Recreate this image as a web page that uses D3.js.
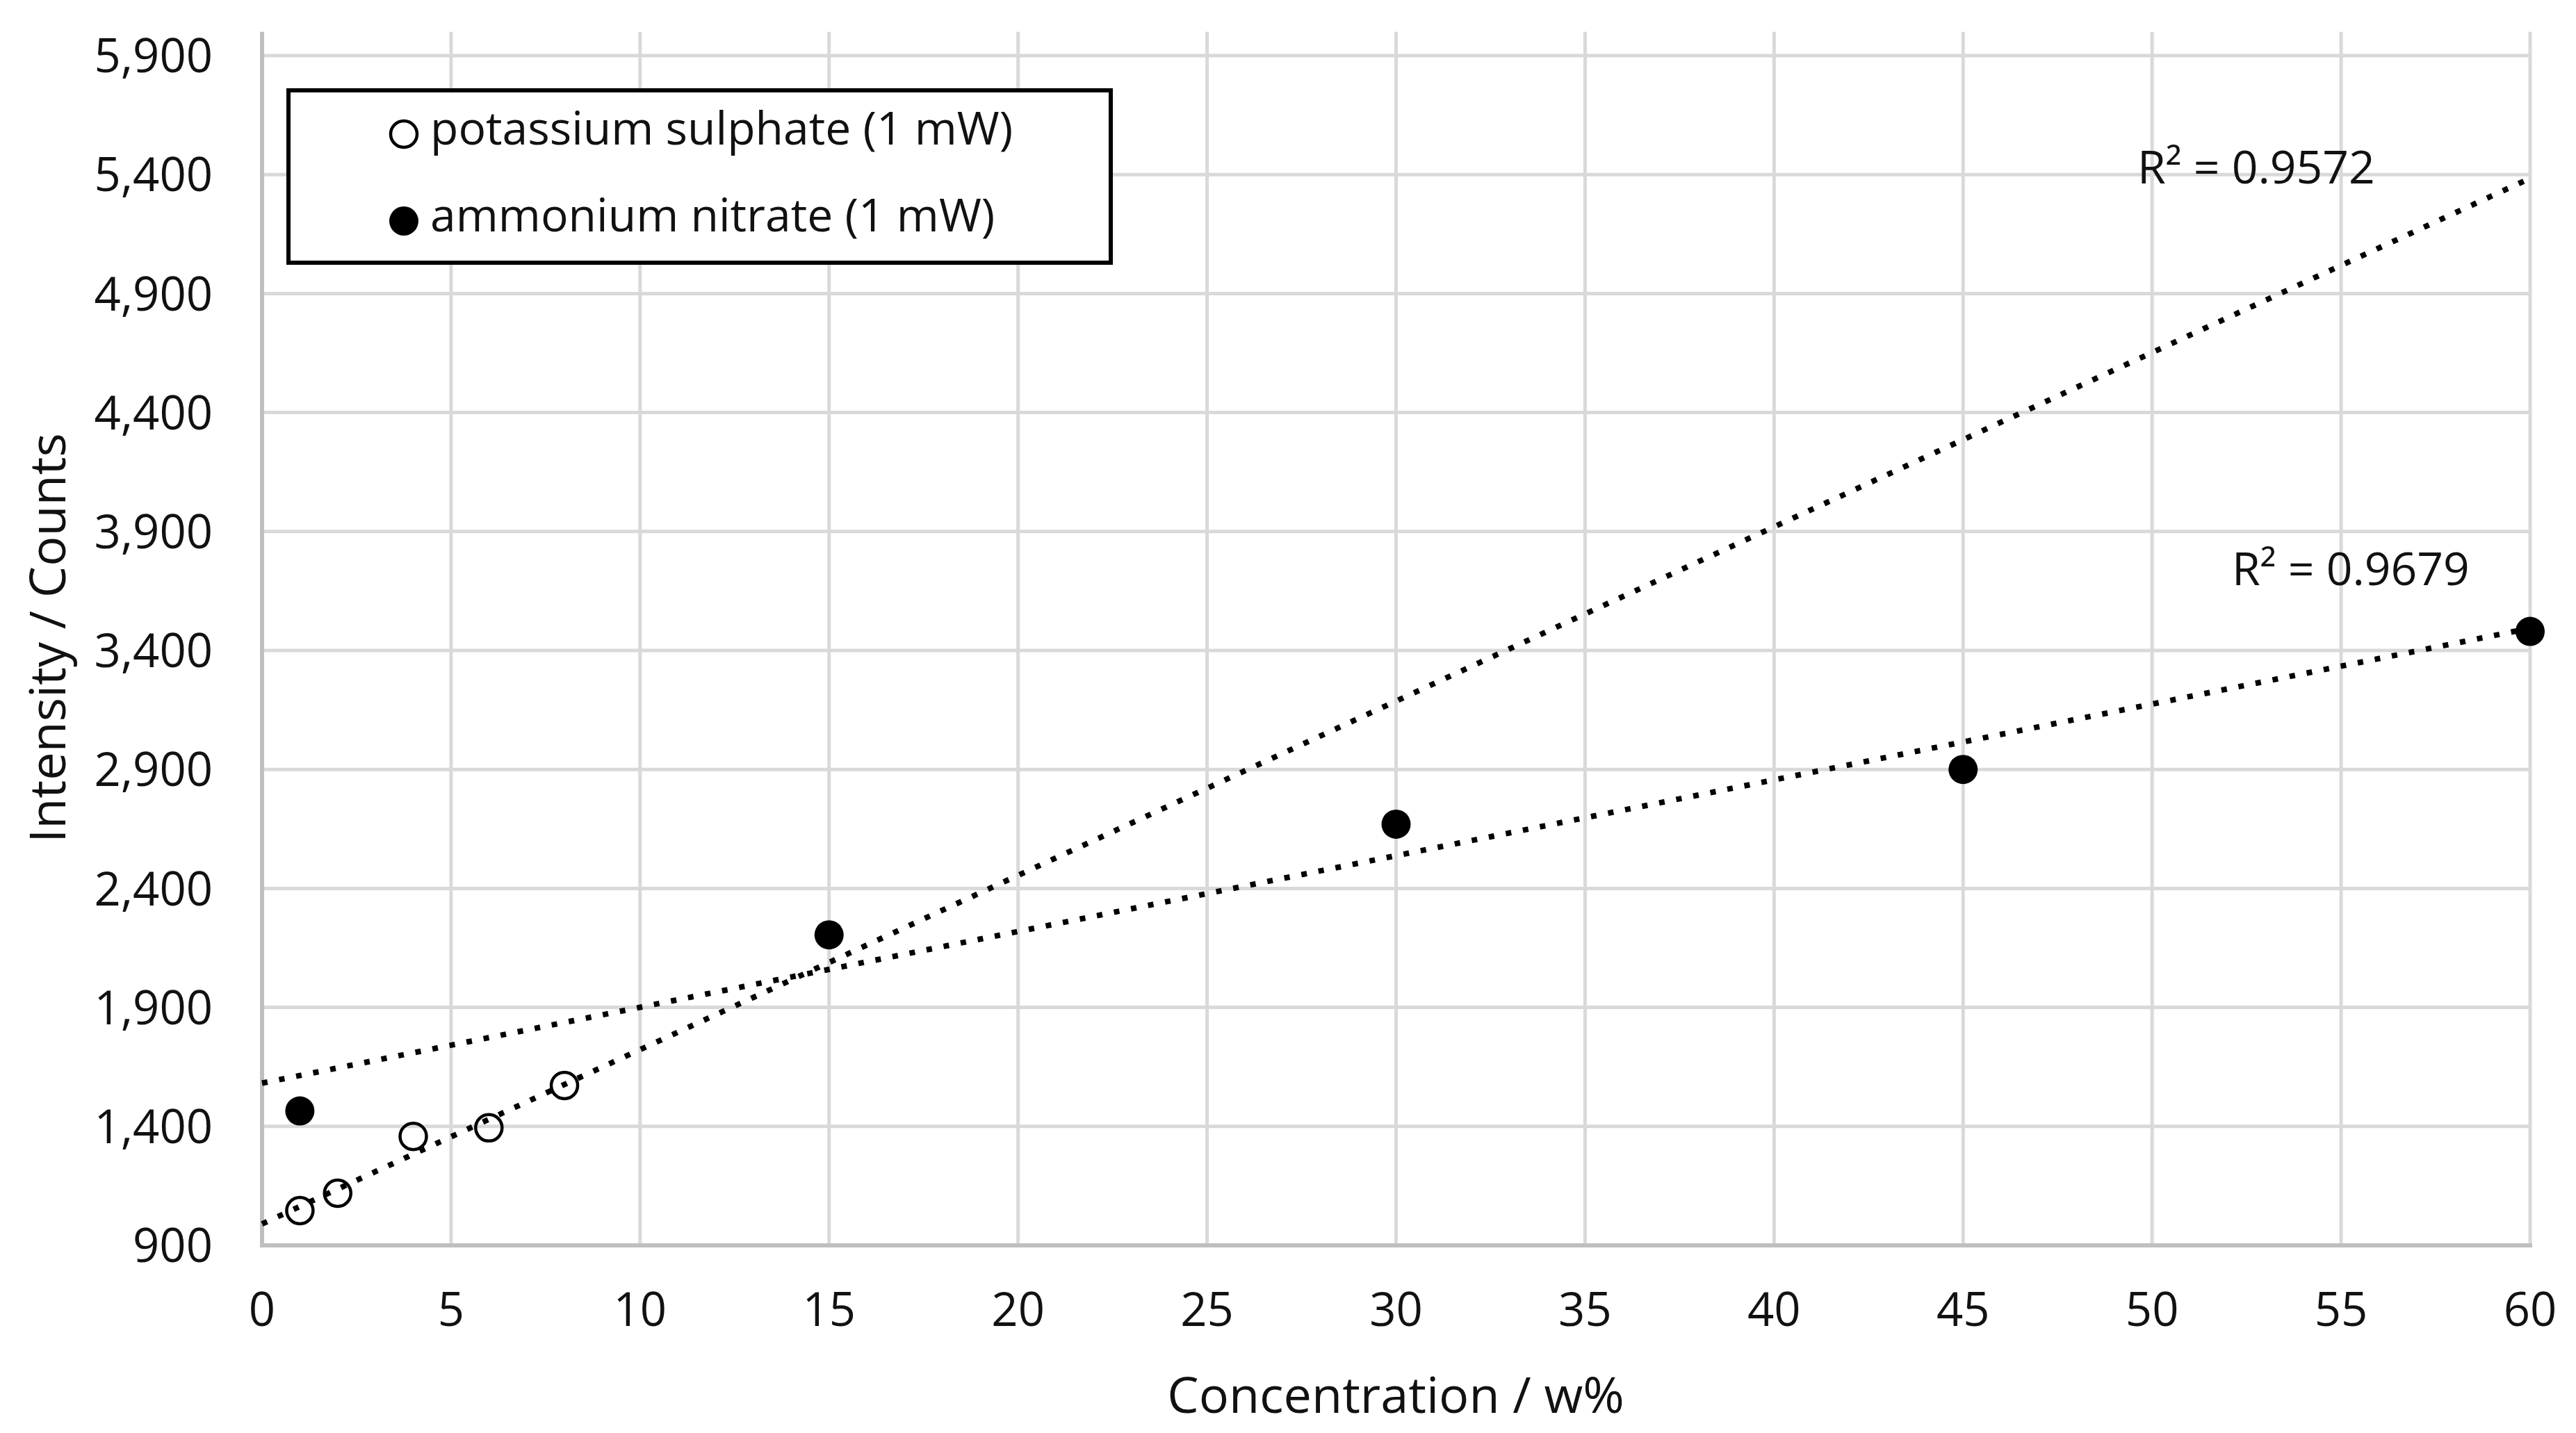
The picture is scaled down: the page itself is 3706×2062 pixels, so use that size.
<!DOCTYPE html>
<html>
<head>
<meta charset="utf-8">
<script src="https://cdn.jsdelivr.net/npm/d3@7"></script>
<style>
    body { margin: 0; background: #fff; }
</style>
</head>
<body>
<div id="viz"></div>
<script>
// data
const sulphateConc = [1, 2, 4, 6, 8]
const sulphateCounts = [1046, 1119, 1358, 1394, 1572]
const nitrateConc = [1, 15, 30, 45, 60]
const nitrateCounts = [1465, 2205, 2670, 2900, 3480]
const xTicks = [0, 5, 10, 15, 20, 25, 30, 35, 40, 45, 50, 55, 60]
const yTicks = [900, 1400, 1900, 2400, 2900, 3400, 3900, 4400, 4900, 5400, 5900]
const seriesNames = ["potassium sulphate (1 mW)", "ammonium nitrate (1 mW)"]
const r2Labels = ["R² = 0.9572", "R² = 0.9679"]

document.addEventListener("DOMContentLoaded", () => {

    const width = 3706
    const height = 2062
    const font = "'Open Sans', 'Noto Sans', sans-serif"

    const svg = d3.select("#viz").append("svg")
        .attr("width", width)
        .attr("height", height)
        .style("display", "block")

    // scales
    const x = d3.scaleLinear().domain([0, 60]).range([377, 3640])
    const y = d3.scaleLinear().domain([900, 5900]).range([1792, 80])
    const yTop = y(6000)

    // grid
    svg.append("g").selectAll("line.h")
        .data(yTicks.slice(1))
        .join("line")
        .attr("x1", x(0)).attr("x2", x(60))
        .attr("y1", d => y(d)).attr("y2", d => y(d))
        .attr("stroke", "#d9d9d9").attr("stroke-width", 5)

    svg.append("g").selectAll("line.v")
        .data(xTicks.slice(1))
        .join("line")
        .attr("x1", d => x(d)).attr("x2", d => x(d))
        .attr("y1", yTop).attr("y2", y(900))
        .attr("stroke", "#d9d9d9").attr("stroke-width", 5)

    // axis lines
    svg.append("line")
        .attr("x1", x(0)).attr("x2", x(0))
        .attr("y1", yTop).attr("y2", y(900) + 3)
        .attr("stroke", "#bfbfbf").attr("stroke-width", 6)
    svg.append("line")
        .attr("x1", x(0) - 3).attr("x2", x(60) + 3)
        .attr("y1", y(900)).attr("y2", y(900))
        .attr("stroke", "#bfbfbf").attr("stroke-width", 6)

    // tick labels
    const fmt = d3.format(",")
    svg.append("g").selectAll("text")
        .data(yTicks)
        .join("text")
        .attr("x", 306)
        .attr("y", d => y(d))
        .attr("dy", "0.36em")
        .attr("text-anchor", "end")
        .attr("font-family", font).attr("font-size", 67).attr("fill", "#111")
        .text(d => fmt(d))

    svg.append("g").selectAll("text")
        .data(xTicks)
        .join("text")
        .attr("x", d => x(d))
        .attr("y", 1908)
        .attr("text-anchor", "middle")
        .attr("font-family", font).attr("font-size", 67).attr("fill", "#111")
        .text(d => d)

    // axis titles
    svg.append("text")
        .attr("x", 2008).attr("y", 2033)
        .attr("text-anchor", "middle")
        .attr("font-family", font).attr("font-size", 72).attr("fill", "#111")
        .text("Concentration / w%")

    svg.append("text")
        .attr("transform", "translate(94,918) rotate(-90)")
        .attr("text-anchor", "middle")
        .attr("font-family", font).attr("font-size", 72).attr("fill", "#111")
        .text("Intensity / Counts")

    // least squares trendlines (as the spreadsheet draws them)
    function fit(xs, ys) {
        const mx = d3.mean(xs), my = d3.mean(ys)
        const sxy = d3.sum(xs, (v, i) => (v - mx) * (ys[i] - my))
        const sxx = d3.sum(xs, v => (v - mx) * (v - mx))
        const b = sxy / sxx
        return [b, my - b * mx]
    }

    const fits = [fit(sulphateConc, sulphateCounts), fit(nitrateConc, nitrateCounts)]
    const line = d3.line().x(d => x(d[0])).y(d => y(d[1]))

    fits.forEach(([b, a]) => {
        svg.append("path")
            .attr("d", line([[0, a], [60, a + b * 60]]))
            .attr("fill", "none")
            .attr("stroke", "#000")
            .attr("stroke-width", 8)
            .attr("stroke-dasharray", "8,17")
    })

    // markers
    svg.append("g").selectAll("circle")
        .data(sulphateConc)
        .join("circle")
        .attr("cx", d => x(d))
        .attr("cy", (d, i) => y(sulphateCounts[i]))
        .attr("r", 19)
        .attr("fill", "none")
        .attr("stroke", "#000")
        .attr("stroke-width", 4.5)

    svg.append("g").selectAll("circle")
        .data(nitrateConc)
        .join("circle")
        .attr("cx", d => x(d))
        .attr("cy", (d, i) => y(nitrateCounts[i]))
        .attr("r", 21)
        .attr("fill", "#000")

    // R² labels
    svg.append("text")
        .attr("x", 3075).attr("y", 264)
        .attr("font-family", font).attr("font-size", 66).attr("fill", "#111")
        .text(r2Labels[0])
    svg.append("text")
        .attr("x", 3211).attr("y", 842)
        .attr("font-family", font).attr("font-size", 66).attr("fill", "#111")
        .text(r2Labels[1])

    // legend
    const legend = svg.append("g")
    legend.append("rect")
        .attr("x", 415).attr("y", 130)
        .attr("width", 1183).attr("height", 248)
        .attr("fill", "#fff")
        .attr("stroke", "#000").attr("stroke-width", 6)

    legend.append("circle")
        .attr("cx", 581).attr("cy", 193).attr("r", 19)
        .attr("fill", "#fff").attr("stroke", "#000").attr("stroke-width", 4.5)
    legend.append("circle")
        .attr("cx", 581).attr("cy", 318).attr("r", 21)
        .attr("fill", "#000")

    legend.selectAll("text")
        .data(seriesNames)
        .join("text")
        .attr("x", 619)
        .attr("y", (d, i) => 208 + i * 125)
        .attr("font-family", font).attr("font-size", 66).attr("fill", "#111")
        .text(d => d)

})
</script>
</body>
</html>
